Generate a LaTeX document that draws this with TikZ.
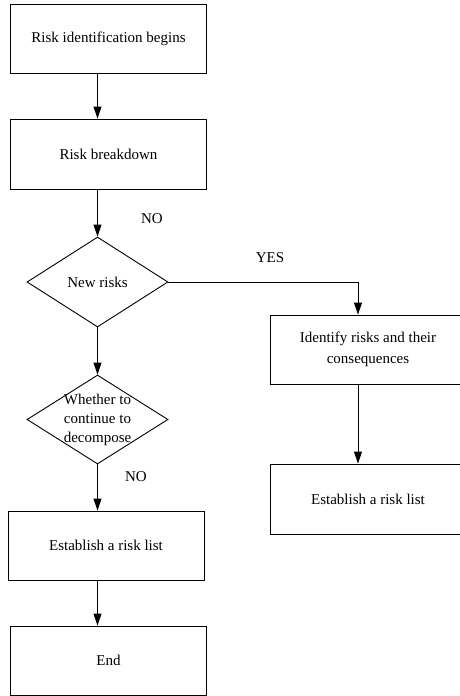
\documentclass[tikz,border=0pt]{standalone}
\usepackage{fontspec}
\setmainfont{Liberation Serif}
\usetikzlibrary{shapes.geometric,arrows.meta}
\begin{document}
\begin{tikzpicture}[x=1pt,y=-1pt]
\tikzstyle{bx} = [rectangle,draw=black,line width=0.9pt,minimum width=196pt,inner sep=0pt,align=center,font=\fontsize{15}{21}\selectfont] %box
\tikzstyle{dm} = [diamond,draw=black,line width=0.9pt,minimum width=141pt,minimum height=90pt,inner sep=0pt] %decision
\tikzstyle{tx} = [inner sep=0pt,align=center,font=\fontsize{15}{19}\selectfont] %text
\tikzstyle{de} = [-{Triangle[length=12pt,width=8pt]},line width=0.9pt] %directed edge
\clip (0,0) rectangle (460,696);
\node[bx,minimum height=69pt](st)at(108.5,38.5){Risk identification begins};
\node[bx,minimum height=70pt](bd)at(108.5,154){Risk breakdown};
\node[dm](nr)at(97.5,282){};
\node[tx](nrt)at(nr){New risks};
\node[dm,minimum height=89pt](wc)at(97.5,419.5){};
\node[tx](wct)at(wc){Whether to\\continue to\\decompose};
\node[bx,minimum height=69pt](rl)at(106,545.5){Establish a risk list};
\node[bx,minimum height=69pt](ed)at(108.5,660.5){End};
\node[bx,minimum height=69pt](ir)at(368,349.5){Identify risks and their\\consequences};
\node[bx,minimum height=70pt](rr)at(368,499){Establish a risk list};
\coordinate(rc)at(358,0);
\node[tx](no1)at(152,219){NO};
\node[tx](yes)at(270,258){YES};
\node[tx](no2)at(136,477){NO};
\draw[de](st.south -| nr)--(bd.north -| nr);
\draw[de](bd.south -| nr)--(nr.north);
\draw[de](nr.south)--(wc.north);
\draw[de](wc.south)--(rl.north -| wc);
\draw[de](rl.south -| wc)--(ed.north -| wc);
\draw[de](nr.east)--(nr.east -| rc)--(ir.north -| rc);
\draw[de](ir.south -| rc)--(rr.north -| rc);
\end{tikzpicture}
\end{document}
